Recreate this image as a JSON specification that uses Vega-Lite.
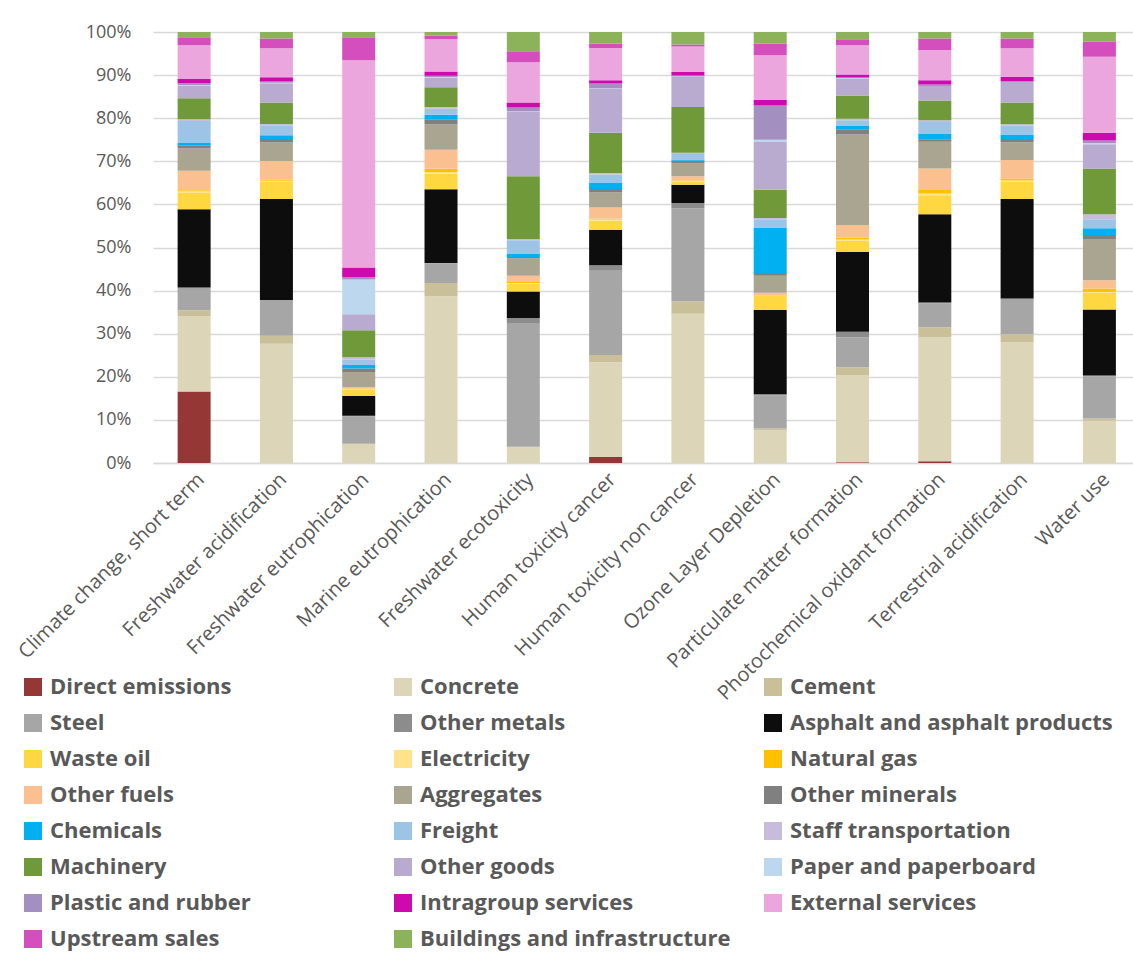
{
  "$schema": "https://vega.github.io/schema/vega-lite/v6.json",
  "width": 980,
  "height": 431,
  "autosize": {"type": "none"},
  "padding": {"left": 153, "top": 32, "right": 0, "bottom": 494},
  "background": "white",
  "config": {
    "view": {"stroke": null},
    "font": "Open Sans"
  },
  "datasets": {
    "d": [
      {"c":"Climate change, short term","s":"Direct emissions","v":16.7},
      {"c":"Climate change, short term","s":"Concrete","v":17.5},
      {"c":"Climate change, short term","s":"Cement","v":1.5},
      {"c":"Climate change, short term","s":"Steel","v":5.0},
      {"c":"Climate change, short term","s":"Other metals","v":0.3},
      {"c":"Climate change, short term","s":"Asphalt and asphalt products","v":18.3},
      {"c":"Climate change, short term","s":"Waste oil","v":3.9},
      {"c":"Climate change, short term","s":"Electricity","v":0.3},
      {"c":"Climate change, short term","s":"Natural gas","v":0.2},
      {"c":"Climate change, short term","s":"Other fuels","v":4.6},
      {"c":"Climate change, short term","s":"Aggregates","v":5.2},
      {"c":"Climate change, short term","s":"Other minerals","v":0.6},
      {"c":"Climate change, short term","s":"Chemicals","v":0.8},
      {"c":"Climate change, short term","s":"Freight","v":5.0},
      {"c":"Climate change, short term","s":"Staff transportation","v":0.4},
      {"c":"Climate change, short term","s":"Machinery","v":4.9},
      {"c":"Climate change, short term","s":"Other goods","v":2.9},
      {"c":"Climate change, short term","s":"Paper and paperboard","v":0.2},
      {"c":"Climate change, short term","s":"Plastic and rubber","v":0.4},
      {"c":"Climate change, short term","s":"Intragroup services","v":1.0},
      {"c":"Climate change, short term","s":"External services","v":7.9},
      {"c":"Climate change, short term","s":"Upstream sales","v":1.9},
      {"c":"Climate change, short term","s":"Buildings and infrastructure","v":1.2},

      {"c":"Freshwater acidification","s":"Concrete","v":27.7},
      {"c":"Freshwater acidification","s":"Cement","v":1.9},
      {"c":"Freshwater acidification","s":"Steel","v":8.1},
      {"c":"Freshwater acidification","s":"Other metals","v":0.2},
      {"c":"Freshwater acidification","s":"Asphalt and asphalt products","v":23.5},
      {"c":"Freshwater acidification","s":"Waste oil","v":3.9},
      {"c":"Freshwater acidification","s":"Electricity","v":0.3},
      {"c":"Freshwater acidification","s":"Natural gas","v":0.3},
      {"c":"Freshwater acidification","s":"Other fuels","v":4.3},
      {"c":"Freshwater acidification","s":"Aggregates","v":4.3},
      {"c":"Freshwater acidification","s":"Other minerals","v":0.8},
      {"c":"Freshwater acidification","s":"Chemicals","v":0.9},
      {"c":"Freshwater acidification","s":"Freight","v":2.3},
      {"c":"Freshwater acidification","s":"Staff transportation","v":0.3},
      {"c":"Freshwater acidification","s":"Machinery","v":5.0},
      {"c":"Freshwater acidification","s":"Other goods","v":4.5},
      {"c":"Freshwater acidification","s":"Paper and paperboard","v":0.1},
      {"c":"Freshwater acidification","s":"Plastic and rubber","v":0.3},
      {"c":"Freshwater acidification","s":"Intragroup services","v":1.0},
      {"c":"Freshwater acidification","s":"External services","v":6.7},
      {"c":"Freshwater acidification","s":"Upstream sales","v":2.3},
      {"c":"Freshwater acidification","s":"Buildings and infrastructure","v":1.5},

      {"c":"Freshwater eutrophication","s":"Concrete","v":4.3},
      {"c":"Freshwater eutrophication","s":"Cement","v":0.2},
      {"c":"Freshwater eutrophication","s":"Steel","v":6.4},
      {"c":"Freshwater eutrophication","s":"Other metals","v":0.1},
      {"c":"Freshwater eutrophication","s":"Asphalt and asphalt products","v":4.6},
      {"c":"Freshwater eutrophication","s":"Waste oil","v":1.4},
      {"c":"Freshwater eutrophication","s":"Electricity","v":0.3},
      {"c":"Freshwater eutrophication","s":"Natural gas","v":0.1},
      {"c":"Freshwater eutrophication","s":"Other fuels","v":0.3},
      {"c":"Freshwater eutrophication","s":"Aggregates","v":3.5},
      {"c":"Freshwater eutrophication","s":"Other minerals","v":0.8},
      {"c":"Freshwater eutrophication","s":"Chemicals","v":0.8},
      {"c":"Freshwater eutrophication","s":"Freight","v":1.3},
      {"c":"Freshwater eutrophication","s":"Staff transportation","v":0.5},
      {"c":"Freshwater eutrophication","s":"Machinery","v":6.3},
      {"c":"Freshwater eutrophication","s":"Other goods","v":3.7},
      {"c":"Freshwater eutrophication","s":"Paper and paperboard","v":8.1},
      {"c":"Freshwater eutrophication","s":"Plastic and rubber","v":0.6},
      {"c":"Freshwater eutrophication","s":"Intragroup services","v":2.2},
      {"c":"Freshwater eutrophication","s":"External services","v":48.2},
      {"c":"Freshwater eutrophication","s":"Upstream sales","v":5.4},
      {"c":"Freshwater eutrophication","s":"Buildings and infrastructure","v":1.2},

      {"c":"Marine eutrophication","s":"Concrete","v":38.9},
      {"c":"Marine eutrophication","s":"Cement","v":3.1},
      {"c":"Marine eutrophication","s":"Steel","v":4.6},
      {"c":"Marine eutrophication","s":"Other metals","v":0.1},
      {"c":"Marine eutrophication","s":"Asphalt and asphalt products","v":17.2},
      {"c":"Marine eutrophication","s":"Waste oil","v":3.6},
      {"c":"Marine eutrophication","s":"Electricity","v":0.4},
      {"c":"Marine eutrophication","s":"Natural gas","v":0.8},
      {"c":"Marine eutrophication","s":"Other fuels","v":4.4},
      {"c":"Marine eutrophication","s":"Aggregates","v":5.9},
      {"c":"Marine eutrophication","s":"Other minerals","v":1.1},
      {"c":"Marine eutrophication","s":"Chemicals","v":1.2},
      {"c":"Marine eutrophication","s":"Freight","v":1.4},
      {"c":"Marine eutrophication","s":"Staff transportation","v":0.4},
      {"c":"Marine eutrophication","s":"Machinery","v":4.6},
      {"c":"Marine eutrophication","s":"Other goods","v":2.3},
      {"c":"Marine eutrophication","s":"Paper and paperboard","v":0.1},
      {"c":"Marine eutrophication","s":"Plastic and rubber","v":0.3},
      {"c":"Marine eutrophication","s":"Intragroup services","v":1.0},
      {"c":"Marine eutrophication","s":"External services","v":7.5},
      {"c":"Marine eutrophication","s":"Upstream sales","v":0.8},
      {"c":"Marine eutrophication","s":"Buildings and infrastructure","v":0.9},

      {"c":"Freshwater ecotoxicity","s":"Concrete","v":3.7},
      {"c":"Freshwater ecotoxicity","s":"Cement","v":0.1},
      {"c":"Freshwater ecotoxicity","s":"Steel","v":29.0},
      {"c":"Freshwater ecotoxicity","s":"Other metals","v":1.2},
      {"c":"Freshwater ecotoxicity","s":"Asphalt and asphalt products","v":6.2},
      {"c":"Freshwater ecotoxicity","s":"Waste oil","v":1.8},
      {"c":"Freshwater ecotoxicity","s":"Electricity","v":0.2},
      {"c":"Freshwater ecotoxicity","s":"Natural gas","v":0.2},
      {"c":"Freshwater ecotoxicity","s":"Other fuels","v":1.5},
      {"c":"Freshwater ecotoxicity","s":"Aggregates","v":4.0},
      {"c":"Freshwater ecotoxicity","s":"Other minerals","v":0.4},
      {"c":"Freshwater ecotoxicity","s":"Chemicals","v":0.8},
      {"c":"Freshwater ecotoxicity","s":"Freight","v":3.1},
      {"c":"Freshwater ecotoxicity","s":"Staff transportation","v":0.3},
      {"c":"Freshwater ecotoxicity","s":"Machinery","v":14.7},
      {"c":"Freshwater ecotoxicity","s":"Other goods","v":15.2},
      {"c":"Freshwater ecotoxicity","s":"Paper and paperboard","v":0.1},
      {"c":"Freshwater ecotoxicity","s":"Plastic and rubber","v":0.8},
      {"c":"Freshwater ecotoxicity","s":"Intragroup services","v":1.2},
      {"c":"Freshwater ecotoxicity","s":"External services","v":9.4},
      {"c":"Freshwater ecotoxicity","s":"Upstream sales","v":2.6},
      {"c":"Freshwater ecotoxicity","s":"Buildings and infrastructure","v":4.5},

      {"c":"Human toxicity cancer","s":"Direct emissions","v":1.4},
      {"c":"Human toxicity cancer","s":"Concrete","v":22.0},
      {"c":"Human toxicity cancer","s":"Cement","v":1.7},
      {"c":"Human toxicity cancer","s":"Steel","v":19.6},
      {"c":"Human toxicity cancer","s":"Other metals","v":1.3},
      {"c":"Human toxicity cancer","s":"Asphalt and asphalt products","v":8.2},
      {"c":"Human toxicity cancer","s":"Waste oil","v":2.1},
      {"c":"Human toxicity cancer","s":"Electricity","v":0.3},
      {"c":"Human toxicity cancer","s":"Natural gas","v":0.2},
      {"c":"Human toxicity cancer","s":"Other fuels","v":2.6},
      {"c":"Human toxicity cancer","s":"Aggregates","v":3.5},
      {"c":"Human toxicity cancer","s":"Other minerals","v":0.8},
      {"c":"Human toxicity cancer","s":"Chemicals","v":1.5},
      {"c":"Human toxicity cancer","s":"Freight","v":1.9},
      {"c":"Human toxicity cancer","s":"Staff transportation","v":0.3},
      {"c":"Human toxicity cancer","s":"Machinery","v":9.4},
      {"c":"Human toxicity cancer","s":"Other goods","v":10.3},
      {"c":"Human toxicity cancer","s":"Paper and paperboard","v":0.1},
      {"c":"Human toxicity cancer","s":"Plastic and rubber","v":1.0},
      {"c":"Human toxicity cancer","s":"Intragroup services","v":0.8},
      {"c":"Human toxicity cancer","s":"External services","v":7.5},
      {"c":"Human toxicity cancer","s":"Upstream sales","v":1.0},
      {"c":"Human toxicity cancer","s":"Buildings and infrastructure","v":2.7},

      {"c":"Human toxicity non cancer","s":"Concrete","v":35.0},
      {"c":"Human toxicity non cancer","s":"Cement","v":2.9},
      {"c":"Human toxicity non cancer","s":"Steel","v":21.8},
      {"c":"Human toxicity non cancer","s":"Other metals","v":1.2},
      {"c":"Human toxicity non cancer","s":"Asphalt and asphalt products","v":4.3},
      {"c":"Human toxicity non cancer","s":"Waste oil","v":0.8},
      {"c":"Human toxicity non cancer","s":"Electricity","v":0.1},
      {"c":"Human toxicity non cancer","s":"Natural gas","v":0.1},
      {"c":"Human toxicity non cancer","s":"Other fuels","v":1.0},
      {"c":"Human toxicity non cancer","s":"Aggregates","v":3.0},
      {"c":"Human toxicity non cancer","s":"Other minerals","v":0.6},
      {"c":"Human toxicity non cancer","s":"Chemicals","v":0.3},
      {"c":"Human toxicity non cancer","s":"Freight","v":1.3},
      {"c":"Human toxicity non cancer","s":"Staff transportation","v":0.3},
      {"c":"Human toxicity non cancer","s":"Machinery","v":10.7},
      {"c":"Human toxicity non cancer","s":"Other goods","v":7.1},
      {"c":"Human toxicity non cancer","s":"Paper and paperboard","v":0.1},
      {"c":"Human toxicity non cancer","s":"Plastic and rubber","v":0.2},
      {"c":"Human toxicity non cancer","s":"Intragroup services","v":0.8},
      {"c":"Human toxicity non cancer","s":"External services","v":6.0},
      {"c":"Human toxicity non cancer","s":"Upstream sales","v":0.5},
      {"c":"Human toxicity non cancer","s":"Buildings and infrastructure","v":2.9},

      {"c":"Ozone Layer Depletion","s":"Concrete","v":7.6},
      {"c":"Ozone Layer Depletion","s":"Cement","v":0.4},
      {"c":"Ozone Layer Depletion","s":"Steel","v":7.7},
      {"c":"Ozone Layer Depletion","s":"Other metals","v":0.3},
      {"c":"Ozone Layer Depletion","s":"Asphalt and asphalt products","v":19.6},
      {"c":"Ozone Layer Depletion","s":"Waste oil","v":3.3},
      {"c":"Ozone Layer Depletion","s":"Electricity","v":0.1},
      {"c":"Ozone Layer Depletion","s":"Natural gas","v":0.1},
      {"c":"Ozone Layer Depletion","s":"Other fuels","v":0.5},
      {"c":"Ozone Layer Depletion","s":"Aggregates","v":4.0},
      {"c":"Ozone Layer Depletion","s":"Other minerals","v":0.6},
      {"c":"Ozone Layer Depletion","s":"Chemicals","v":10.6},
      {"c":"Ozone Layer Depletion","s":"Freight","v":1.9},
      {"c":"Ozone Layer Depletion","s":"Staff transportation","v":0.3},
      {"c":"Ozone Layer Depletion","s":"Machinery","v":6.6},
      {"c":"Ozone Layer Depletion","s":"Other goods","v":11.1},
      {"c":"Ozone Layer Depletion","s":"Paper and paperboard","v":0.5},
      {"c":"Ozone Layer Depletion","s":"Plastic and rubber","v":8.0},
      {"c":"Ozone Layer Depletion","s":"Intragroup services","v":1.3},
      {"c":"Ozone Layer Depletion","s":"External services","v":10.4},
      {"c":"Ozone Layer Depletion","s":"Upstream sales","v":2.7},
      {"c":"Ozone Layer Depletion","s":"Buildings and infrastructure","v":2.7},

      {"c":"Particulate matter formation","s":"Direct emissions","v":0.2},
      {"c":"Particulate matter formation","s":"Concrete","v":20.3},
      {"c":"Particulate matter formation","s":"Cement","v":1.8},
      {"c":"Particulate matter formation","s":"Steel","v":7.0},
      {"c":"Particulate matter formation","s":"Other metals","v":1.3},
      {"c":"Particulate matter formation","s":"Asphalt and asphalt products","v":18.6},
      {"c":"Particulate matter formation","s":"Waste oil","v":2.6},
      {"c":"Particulate matter formation","s":"Electricity","v":0.3},
      {"c":"Particulate matter formation","s":"Natural gas","v":0.5},
      {"c":"Particulate matter formation","s":"Other fuels","v":2.9},
      {"c":"Particulate matter formation","s":"Aggregates","v":21.1},
      {"c":"Particulate matter formation","s":"Other minerals","v":1.2},
      {"c":"Particulate matter formation","s":"Chemicals","v":0.9},
      {"c":"Particulate matter formation","s":"Freight","v":1.2},
      {"c":"Particulate matter formation","s":"Staff transportation","v":0.4},
      {"c":"Particulate matter formation","s":"Machinery","v":5.4},
      {"c":"Particulate matter formation","s":"Other goods","v":3.9},
      {"c":"Particulate matter formation","s":"Paper and paperboard","v":0.1},
      {"c":"Particulate matter formation","s":"Plastic and rubber","v":0.2},
      {"c":"Particulate matter formation","s":"Intragroup services","v":0.7},
      {"c":"Particulate matter formation","s":"External services","v":6.8},
      {"c":"Particulate matter formation","s":"Upstream sales","v":1.4},
      {"c":"Particulate matter formation","s":"Buildings and infrastructure","v":1.7},

      {"c":"Photochemical oxidant formation","s":"Direct emissions","v":0.4},
      {"c":"Photochemical oxidant formation","s":"Concrete","v":28.8},
      {"c":"Photochemical oxidant formation","s":"Cement","v":2.3},
      {"c":"Photochemical oxidant formation","s":"Steel","v":5.6},
      {"c":"Photochemical oxidant formation","s":"Other metals","v":0.2},
      {"c":"Photochemical oxidant formation","s":"Asphalt and asphalt products","v":20.5},
      {"c":"Photochemical oxidant formation","s":"Waste oil","v":4.4},
      {"c":"Photochemical oxidant formation","s":"Electricity","v":0.4},
      {"c":"Photochemical oxidant formation","s":"Natural gas","v":0.8},
      {"c":"Photochemical oxidant formation","s":"Other fuels","v":5.0},
      {"c":"Photochemical oxidant formation","s":"Aggregates","v":6.2},
      {"c":"Photochemical oxidant formation","s":"Other minerals","v":0.6},
      {"c":"Photochemical oxidant formation","s":"Chemicals","v":1.3},
      {"c":"Photochemical oxidant formation","s":"Freight","v":2.7},
      {"c":"Photochemical oxidant formation","s":"Staff transportation","v":0.4},
      {"c":"Photochemical oxidant formation","s":"Machinery","v":4.6},
      {"c":"Photochemical oxidant formation","s":"Other goods","v":3.1},
      {"c":"Photochemical oxidant formation","s":"Paper and paperboard","v":0.1},
      {"c":"Photochemical oxidant formation","s":"Plastic and rubber","v":0.5},
      {"c":"Photochemical oxidant formation","s":"Intragroup services","v":1.0},
      {"c":"Photochemical oxidant formation","s":"External services","v":7.0},
      {"c":"Photochemical oxidant formation","s":"Upstream sales","v":2.7},
      {"c":"Photochemical oxidant formation","s":"Buildings and infrastructure","v":1.5},

      {"c":"Terrestrial acidification","s":"Concrete","v":28.1},
      {"c":"Terrestrial acidification","s":"Cement","v":1.9},
      {"c":"Terrestrial acidification","s":"Steel","v":8.0},
      {"c":"Terrestrial acidification","s":"Other metals","v":0.3},
      {"c":"Terrestrial acidification","s":"Asphalt and asphalt products","v":23.2},
      {"c":"Terrestrial acidification","s":"Waste oil","v":4.1},
      {"c":"Terrestrial acidification","s":"Electricity","v":0.2},
      {"c":"Terrestrial acidification","s":"Natural gas","v":0.5},
      {"c":"Terrestrial acidification","s":"Other fuels","v":4.3},
      {"c":"Terrestrial acidification","s":"Aggregates","v":4.1},
      {"c":"Terrestrial acidification","s":"Other minerals","v":0.8},
      {"c":"Terrestrial acidification","s":"Chemicals","v":1.0},
      {"c":"Terrestrial acidification","s":"Freight","v":2.1},
      {"c":"Terrestrial acidification","s":"Staff transportation","v":0.3},
      {"c":"Terrestrial acidification","s":"Machinery","v":5.1},
      {"c":"Terrestrial acidification","s":"Other goods","v":4.5},
      {"c":"Terrestrial acidification","s":"Paper and paperboard","v":0.1},
      {"c":"Terrestrial acidification","s":"Plastic and rubber","v":0.3},
      {"c":"Terrestrial acidification","s":"Intragroup services","v":1.0},
      {"c":"Terrestrial acidification","s":"External services","v":6.7},
      {"c":"Terrestrial acidification","s":"Upstream sales","v":2.3},
      {"c":"Terrestrial acidification","s":"Buildings and infrastructure","v":1.5},

      {"c":"Water use","s":"Concrete","v":9.9},
      {"c":"Water use","s":"Cement","v":0.5},
      {"c":"Water use","s":"Steel","v":9.9},
      {"c":"Water use","s":"Other metals","v":0.2},
      {"c":"Water use","s":"Asphalt and asphalt products","v":15.5},
      {"c":"Water use","s":"Waste oil","v":3.9},
      {"c":"Water use","s":"Electricity","v":0.2},
      {"c":"Water use","s":"Natural gas","v":0.8},
      {"c":"Water use","s":"Other fuels","v":1.9},
      {"c":"Water use","s":"Aggregates","v":9.7},
      {"c":"Water use","s":"Other minerals","v":0.9},
      {"c":"Water use","s":"Chemicals","v":1.6},
      {"c":"Water use","s":"Freight","v":2.1},
      {"c":"Water use","s":"Staff transportation","v":1.2},
      {"c":"Water use","s":"Machinery","v":10.7},
      {"c":"Water use","s":"Other goods","v":5.7},
      {"c":"Water use","s":"Paper and paperboard","v":0.3},
      {"c":"Water use","s":"Plastic and rubber","v":0.6},
      {"c":"Water use","s":"Intragroup services","v":1.8},
      {"c":"Water use","s":"External services","v":17.8},
      {"c":"Water use","s":"Upstream sales","v":3.5},
      {"c":"Water use","s":"Buildings and infrastructure","v":2.3}
    ]
  },
  "data": {"name": "d"},
  "transform": [
    {"calculate": "indexof(['Direct emissions','Concrete','Cement','Steel','Other metals','Asphalt and asphalt products','Waste oil','Electricity','Natural gas','Other fuels','Aggregates','Other minerals','Chemicals','Freight','Staff transportation','Machinery','Other goods','Paper and paperboard','Plastic and rubber','Intragroup services','External services','Upstream sales','Buildings and infrastructure'], datum.s)", "as": "o"}
  ],
  "mark": {"type": "bar", "width": 33},
  "encoding": {
    "x": {
      "field": "c",
      "type": "nominal",
      "sort": null,
      "title": null,
      "scale": {"paddingInner": 0.6, "paddingOuter": 0.254, "align": 0.59},
      "axis": {
        "labelAngle": -45,
        "labelFontSize": 20,
        "labelColor": "#595959",
        "labelFont": "Open Sans",
        "labelPadding": 6,
        "labelLimit": 400,
        "ticks": false,
        "domainColor": "#D9D9D9",
        "domainWidth": 1.5
      }
    },
    "y": {
      "field": "v",
      "type": "quantitative",
      "stack": "normalize",
      "title": null,
      "scale": {"domain": [0, 1]},
      "axis": {
        "values": [0, 0.1, 0.2, 0.3, 0.4, 0.5, 0.6, 0.7, 0.8, 0.9, 1.0],
        "format": ".0%",
        "labelFontSize": 18,
        "labelColor": "#595959",
        "labelFont": "Open Sans",
        "labelPadding": 22,
        "ticks": false,
        "domain": false,
        "gridColor": "#D9D9D9",
        "gridWidth": 1.5
      }
    },
    "order": {"field": "o", "type": "quantitative", "sort": "ascending"},
    "color": {
      "field": "s",
      "type": "nominal",
      "sort": ["Direct emissions","Concrete","Cement","Steel","Other metals","Asphalt and asphalt products","Waste oil","Electricity","Natural gas","Other fuels","Aggregates","Other minerals","Chemicals","Freight","Staff transportation","Machinery","Other goods","Paper and paperboard","Plastic and rubber","Intragroup services","External services","Upstream sales","Buildings and infrastructure"],
      "scale": {
        "domain": ["Direct emissions","Concrete","Cement","Steel","Other metals","Asphalt and asphalt products","Waste oil","Electricity","Natural gas","Other fuels","Aggregates","Other minerals","Chemicals","Freight","Staff transportation","Machinery","Other goods","Paper and paperboard","Plastic and rubber","Intragroup services","External services","Upstream sales","Buildings and infrastructure"],
        "range": ["#953735","#DCD5B8","#C9C09A","#A6A6A6","#8C8C8C","#0D0D0D","#FFD740","#FFE38A","#FFC000","#FAC090","#A9A591","#808080","#00B0F0","#9DC3E6","#C8BCDC","#70993A","#B9AACF","#BDD7EE","#A490C0","#CC0AAE","#EAA6DD","#D44EBE","#8DB35A"]
      },
      "legend": {
        "title": null,
        "orient": "none",
        "legendX": -131,
        "legendY": 644,
        "columns": 3,
        "direction": "horizontal",
        "gridAlign": "all",
        "symbolType": "square",
        "symbolSize": 324,
        "symbolStrokeWidth": 0,
        "symbolOpacity": 1,
        "labelFontSize": 22,
        "labelFontWeight": "bold",
        "labelFont": "Open Sans",
        "labelColor": "#595959",
        "labelLimit": 400,
        "labelOffset": 6,
        "rowPadding": 14,
        "columnPadding": 19
      }
    }
  }
}
